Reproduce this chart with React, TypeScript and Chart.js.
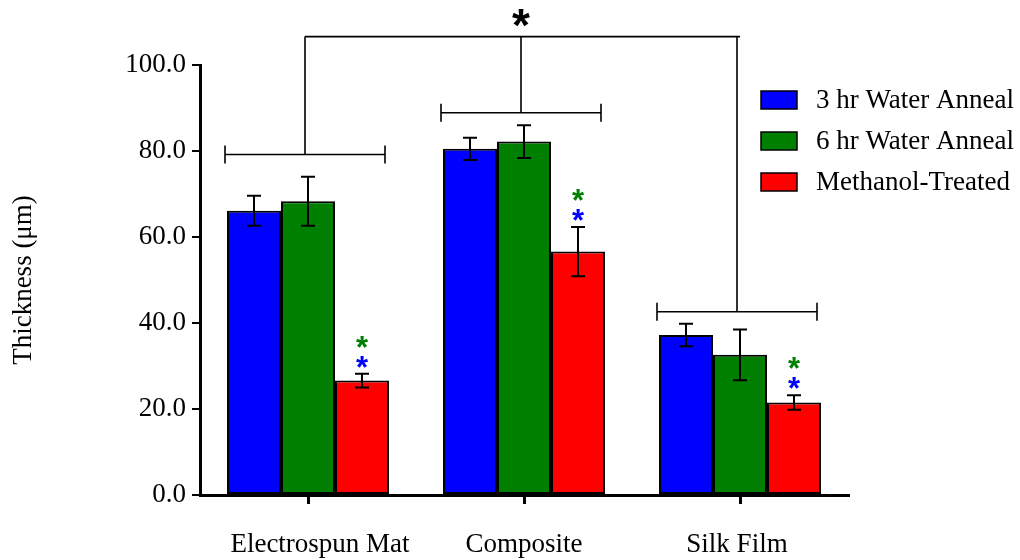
import { useEffect, useRef } from "react";
import { Chart, registerables } from "chart.js";

Chart.register(...registerables);

const categories = ["Electrospun Mat", "Composite", "Silk Film"];
const seriesLabels = ["3 hr Water Anneal", "6 hr Water Anneal", "Methanol-Treated"];
const seriesColors = ["#0000FF", "#008000", "#FF0000"];
const water3h = [66.1, 80.5, 37.2];
const water3hErr = [3.5, 2.6, 2.6];
const water6h = [68.3, 82.2, 32.6];
const water6hErr = [5.7, 3.8, 5.9];
const methanol = [26.6, 56.6, 21.5];
const methanolErr = [1.6, 5.7, 1.7];
const yTicks = [0, 20, 40, 60, 80, 100];
const groupBracketLevels = [79.2, 88.9, 42.6];
const topBracketLevel = 106.6;
const topStarLevel = 110.9;

// style only: horizontal nudge of each category label (px)
const xLabelNudge = [12, 0, -3];

const errors = [water3hErr, water6hErr, methanolErr];
const SERIF = "'Liberation Serif', 'Times New Roman', serif";
const SANS = "'Liberation Sans', Arial, sans-serif";

function drawCenteredText(ctx: CanvasRenderingContext2D, text: string, x: number, cy: number) {
  const m = ctx.measureText(text);
  const asc = m.actualBoundingBoxAscent;
  const desc = m.actualBoundingBoxDescent;
  ctx.textBaseline = "alphabetic";
  ctx.textAlign = "center";
  ctx.fillText(text, x, cy + (asc - desc) / 2);
}

const annotationsPlugin = {
  id: "annotations",
  afterDatasetsDraw(chart: any) {
    const ctx: CanvasRenderingContext2D = chart.ctx;
    const y = chart.scales.y;
    const x = chart.scales.x;
    ctx.save();
    ctx.strokeStyle = "#000";
    ctx.lineWidth = 2;
    // error bars
    chart.data.datasets.forEach((ds: any, i: number) => {
      const meta = chart.getDatasetMeta(i);
      meta.data.forEach((bar: any, j: number) => {
        const v = ds.data[j];
        const e = errors[i][j];
        const yt = y.getPixelForValue(v + e);
        const yb = y.getPixelForValue(v - e);
        const cx = bar.x;
        ctx.beginPath();
        ctx.moveTo(cx, yt);
        ctx.lineTo(cx, yb);
        ctx.moveTo(cx - 7, yt);
        ctx.lineTo(cx + 7, yt);
        ctx.moveTo(cx - 7, yb);
        ctx.lineTo(cx + 7, yb);
        ctx.stroke();
      });
    });
    // colored significance stars above methanol bars
    const redMeta = chart.getDatasetMeta(2);
    ctx.font = `bold 31px ${SANS}`;
    redMeta.data.forEach((bar: any, j: number) => {
      const top = y.getPixelForValue(methanol[j] + methanolErr[j]);
      ctx.fillStyle = seriesColors[0];
      drawCenteredText(ctx, "*", bar.x, top - 12);
      ctx.fillStyle = seriesColors[1];
      drawCenteredText(ctx, "*", bar.x, top - 32);
    });
    // group brackets
    ctx.lineWidth = 1.6;
    const half = 80;
    const centers = categories.map((_, j) => x.getPixelForValue(j) - 3);
    const topY = y.getPixelForValue(topBracketLevel);
    centers.forEach((cx, j) => {
      const by = y.getPixelForValue(groupBracketLevels[j]);
      ctx.beginPath();
      ctx.moveTo(cx - half, by);
      ctx.lineTo(cx + half, by);
      ctx.moveTo(cx - half, by - 9);
      ctx.lineTo(cx - half, by + 9);
      ctx.moveTo(cx + half, by - 9);
      ctx.lineTo(cx + half, by + 9);
      ctx.moveTo(cx, by);
      ctx.lineTo(cx, topY);
      ctx.stroke();
    });
    ctx.beginPath();
    ctx.moveTo(centers[0], topY);
    ctx.lineTo(centers[2] + 3, topY);
    ctx.stroke();
    ctx.fillStyle = "#000";
    ctx.font = `bold 46px ${SANS}`;
    drawCenteredText(ctx, "*", centers[1], y.getPixelForValue(topStarLevel));
    // category labels
    ctx.font = `27px ${SERIF}`;
    ctx.fillStyle = "#000";
    categories.forEach((lab, j) => {
      ctx.textAlign = "center";
      ctx.textBaseline = "alphabetic";
      ctx.fillText(lab, x.getPixelForValue(j) + xLabelNudge[j], 552);
    });
    // legend
    ctx.font = `27px ${SERIF}`;
    chart.data.datasets.forEach((ds: any, i: number) => {
      const cy = 100 + i * 41;
      ctx.fillStyle = ds.backgroundColor;
      ctx.fillRect(761, cy - 9, 36, 18);
      ctx.lineWidth = 1.5;
      ctx.strokeStyle = "#000";
      ctx.strokeRect(761, cy - 9, 36, 18);
      ctx.fillStyle = "#000";
      ctx.textAlign = "left";
      ctx.textBaseline = "middle";
      ctx.fillText(ds.label, 816, cy + 1);
    });
    ctx.restore();
  },
};

export default function App() {
  const ref = useRef<HTMLCanvasElement | null>(null);
  useEffect(() => {
    if (!ref.current) return;
    const seriesData = [water3h, water6h, methanol];
    const chart = new Chart(ref.current, {
      type: "bar",
      data: {
        labels: categories,
        datasets: seriesData.map((d, i) => ({
          label: seriesLabels[i],
          data: d,
          backgroundColor: seriesColors[i],
          borderColor: "#000",
          borderWidth: 2,
          borderSkipped: false,
          categoryPercentage: 0.75,
          barPercentage: 1.0,
        })),
      },
      options: {
        animation: false,
        responsive: false,
        maintainAspectRatio: false,
        layout: { padding: { top: 65, right: 172, bottom: 0, left: 0 } },
        plugins: { legend: { display: false }, tooltip: { enabled: false }, title: { display: false } },
        scales: {
          x: {
            afterFit: (s: any) => { s.height = 65; },
            grid: { display: true, offset: false, drawOnChartArea: false, drawTicks: true, tickLength: 9, color: "#000", lineWidth: 3 },
            border: { display: true, color: "#000", width: 3 },
            ticks: { display: false },
          },
          y: {
            min: 0,
            max: 100,
            afterFit: (s: any) => { s.width = 200; },
            afterBuildTicks: (s: any) => { s.ticks = yTicks.map((v) => ({ value: v })); },
            grid: { display: true, drawOnChartArea: false, drawTicks: true, tickLength: 8, color: "#000", lineWidth: 2 },
            border: { display: true, color: "#000", width: 3 },
            ticks: {
              color: "#000",
              padding: 6,
              font: { family: SERIF, size: 27 },
              callback: (v: any) => Number(v).toFixed(1),
            },
            title: {
              display: true,
              text: "Thickness (μm)",
              color: "#000",
              font: { family: SERIF, size: 27 },
              padding: { top: 8, bottom: 0 },
            },
          },
        },
      },
      plugins: [annotationsPlugin],
    } as any);
    return () => chart.destroy();
  }, []);
  return (
    <div style={{ position: "fixed", left: 0, top: 0, width: 1020, height: 560, background: "#fff" }}>
      <canvas ref={ref} width={1020} height={560} style={{ width: 1020, height: 560 }} />
    </div>
  );
}
